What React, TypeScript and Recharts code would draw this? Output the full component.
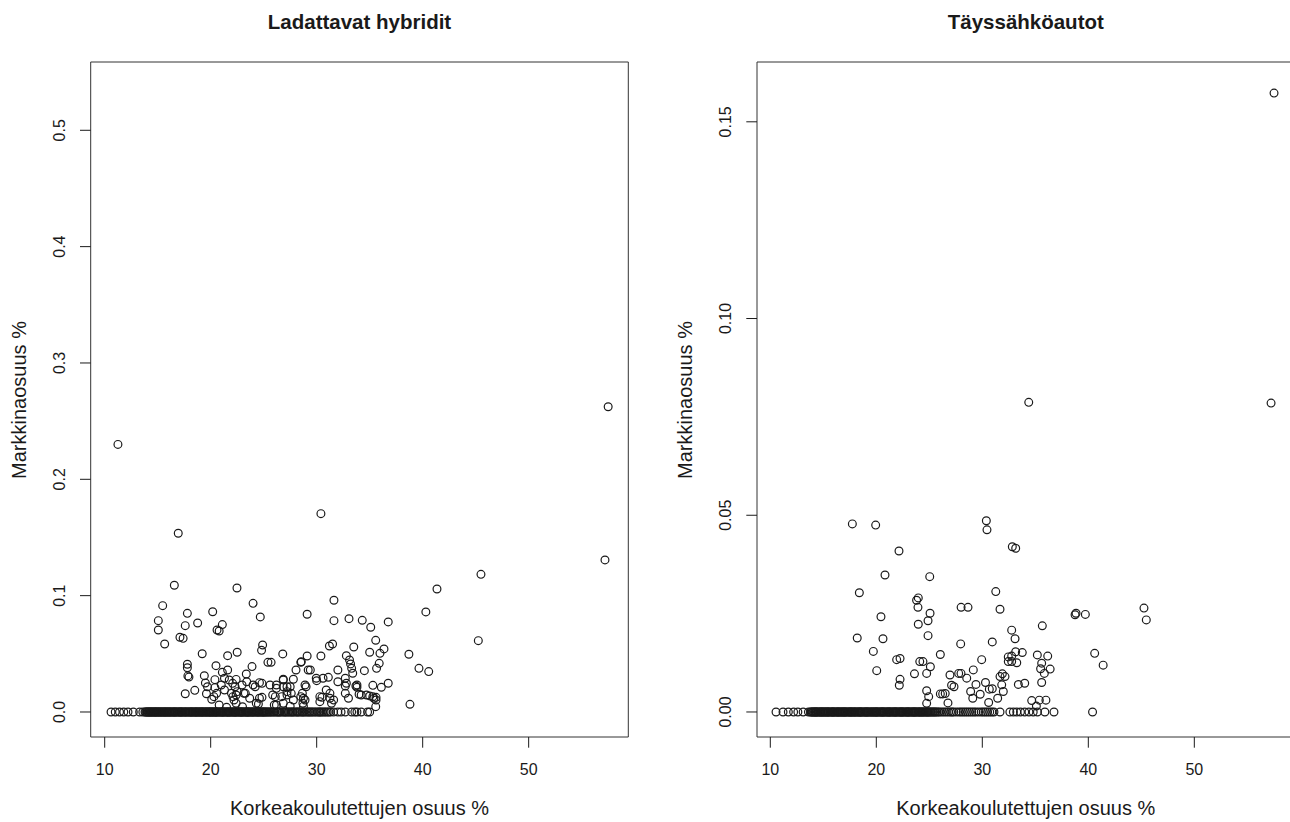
import { ReferenceArea, Scatter, ScatterChart, XAxis, YAxis } from "recharts";

// Ladattavat hybridit: kunnat joilla markkinaosuus > 0
const hybridX = [
  11.25, 30.4, 16.94, 16.57, 22.48, 15.47, 24.0, 31.63, 17.8, 20.19, 24.68, 29.1,
  15.06, 15.06, 17.6, 18.77, 21.1, 20.6, 20.8, 31.63, 33.05, 34.3, 15.66, 17.1,
  17.4, 19.2, 21.6, 22.5, 24.9, 24.8, 25.4, 25.7, 26.8, 29.1, 30.4, 31.2, 31.5,
  33.5, 17.8, 17.8, 17.85, 17.95, 17.6, 18.5, 19.4, 19.5, 19.7, 19.6, 20.5, 20.4,
  20.4, 20.3, 20.1, 21.1, 21.3, 21.6, 21.75, 22.07, 22.4, 22.3, 22.5, 22.1, 22.4,
  23.36, 23.9, 23.4, 24.0, 23.14, 24.2, 24.6, 24.84, 24.6, 24.84, 24.3, 25.6,
  26.2, 26.85, 27.2, 26.7, 26.1, 20.56, 21.0, 21.3, 21.96, 22.2, 22.4, 22.96,
  23.27, 23.68, 26.2, 57.5, 57.2, 45.5, 41.35, 40.3, 45.25, 38.7, 39.65, 40.57,
  38.8, 36.75, 35.1, 35.57, 35.0, 35.97, 36.35, 35.9, 35.65, 34.5, 33.4, 36.75,
  36.1, 35.3, 33.7, 34.0, 35.0, 35.4, 35.6, 35.57, 32.8, 33.1, 33.2, 33.3, 28.55,
  28.05, 29.4, 32.0, 30.6, 31.1, 30.0, 27.8, 26.85, 27.2, 29.0, 32.0, 32.7, 32.7,
  33.8, 33.8, 27.2, 27.6, 28.5, 28.9, 30.5, 31.25, 31.6, 33.0, 34.2, 34.7, 35.3,
  35.6, 26.85, 28.7, 30.3, 31.4, 27.8, 28.75, 30.3, 31.25, 30.9, 29.96, 32.8,
  32.7, 26.85, 27.5, 28.5, 29.2, 28.9, 28.65, 26.2, 25.85, 24.5, 26.0, 27.5,
  28.75, 20.8, 21.5, 23.0,
];
const hybridY = [
  0.230, 0.1705, 0.1536, 0.1089, 0.1066, 0.0914, 0.0934, 0.096, 0.0848, 0.0862,
  0.0817, 0.084, 0.0785, 0.0705, 0.0742, 0.0765, 0.0751, 0.0705, 0.0696, 0.0785,
  0.0802, 0.0788, 0.0584, 0.0642, 0.0633, 0.0501, 0.0484, 0.0513, 0.0576, 0.053,
  0.0427, 0.0427, 0.0499, 0.0481, 0.0481, 0.0567, 0.0584, 0.0559, 0.041, 0.038,
  0.031, 0.030, 0.0157, 0.0186, 0.0312, 0.0249, 0.0217, 0.0157, 0.0398, 0.0278,
  0.0209, 0.0132, 0.0109, 0.0341, 0.029, 0.0361, 0.0275, 0.0246, 0.028, 0.0217,
  0.0175, 0.0132, 0.0146, 0.0327, 0.039, 0.026, 0.0232, 0.016, 0.0217, 0.0252,
  0.0246, 0.0118, 0.0126, 0.0075, 0.0232, 0.0203, 0.0217, 0.0175, 0.0132, 0.0132,
  0.016, 0.0232, 0.0189, 0.016, 0.0103, 0.0075, 0.0232, 0.016, 0.0118, 0.0232,
  0.2624, 0.1307, 0.1183, 0.1057, 0.086, 0.0613, 0.0496, 0.0375, 0.0347, 0.0066,
  0.0774, 0.0728, 0.0616, 0.0513, 0.0504, 0.0542, 0.0418, 0.0375, 0.0355, 0.0333,
  0.0247, 0.0212, 0.0229, 0.0223, 0.0152, 0.0138, 0.0118, 0.0126, 0.0046, 0.0484,
  0.0447, 0.0413, 0.0375, 0.0432, 0.0361, 0.0361, 0.0361, 0.029, 0.0298, 0.0269,
  0.0281, 0.0281, 0.0217, 0.0217, 0.026, 0.029, 0.0223, 0.0232, 0.0212, 0.0146,
  0.016, 0.0132, 0.0103, 0.0126, 0.016, 0.0103, 0.0118, 0.0146, 0.0146, 0.0132,
  0.0103, 0.0075, 0.0075, 0.0089, 0.0075, 0.0103, 0.0118, 0.0132, 0.0118, 0.0189,
  0.029, 0.0247, 0.016, 0.0275, 0.0217, 0.0427, 0.0361, 0.0232, 0.016, 0.006,
  0.0146, 0.0069, 0.006, 0.005, 0.005, 0.006, 0.004, 0.0045,
];
// kunnat joissa ei yhtään ladattavaa hybridiä
const hybridZeroX = [
  10.6, 11.0, 11.4, 11.8, 12.2, 12.7, 13.3, 13.6, 13.8, 13.87, 13.95, 14.02,
  14.1, 14.16, 14.2, 14.3, 14.36, 14.4, 14.48, 14.55, 14.63, 14.7, 14.76, 14.8,
  14.9, 14.97, 15.0, 15.1, 15.17, 15.22, 15.3, 15.37, 15.45, 15.5, 15.6, 15.66,
  15.7, 15.8, 15.85, 15.93, 16.0, 16.08, 16.14, 16.2, 16.3, 16.36, 16.45, 16.52,
  16.6, 16.66, 16.7, 16.8, 16.9, 16.96, 17.05, 17.12, 17.2, 17.26, 17.3, 17.4,
  17.5, 17.57, 17.65, 17.7, 17.78, 17.9, 17.96, 18.05, 18.1, 18.2, 18.25, 18.3,
  18.4, 18.5, 18.55, 18.6, 18.68, 18.75, 18.83, 18.9, 18.97, 19.05, 19.12, 19.2,
  19.25, 19.3, 19.4, 19.5, 19.56, 19.6, 19.7, 19.8, 19.86, 19.9, 20.0, 20.05,
  20.13, 20.2, 20.27, 20.35, 20.42, 20.5, 20.55, 20.6, 20.7, 20.8, 20.87, 20.95,
  21.03, 21.1, 21.16, 21.2, 21.3, 21.4, 21.47, 21.55, 21.62, 21.7, 21.75, 21.8,
  21.9, 22.0, 22.07, 22.15, 22.22, 22.3, 22.36, 22.4, 22.5, 22.6, 22.67, 22.75,
  22.82, 22.9, 22.95, 23.0, 23.1, 23.2, 23.28, 23.35, 23.42, 23.5, 23.55, 23.6,
  23.7, 23.8, 23.88, 23.95, 24.03, 24.1, 24.2, 24.3, 24.37, 24.45, 24.53, 24.6,
  24.7, 24.8, 24.87, 24.95, 25.03, 25.1, 25.2, 25.3, 25.38, 25.5, 25.6, 25.7,
  25.82, 25.95, 26.05, 26.2, 26.3, 26.4, 26.5, 26.6, 26.75, 26.9, 27.0, 27.1,
  27.22, 27.35, 27.47, 27.6, 27.7, 27.8, 27.95, 28.1, 28.2, 28.3, 28.45, 28.6,
  28.7, 28.8, 28.95, 29.1, 29.22, 29.35, 29.47, 29.6, 29.75, 29.9, 30.05, 30.2,
  30.3, 30.4, 30.55, 30.7, 30.85, 31.0, 31.15, 31.3, 31.6, 32.0, 32.3, 32.7,
  33.3, 33.6, 33.8, 34.2, 34.8, 35.0,
];

// Täyssähköautot: kunnat joilla markkinaosuus > 0
const electricX = [
  57.52, 57.24, 34.38, 17.74, 19.94, 30.38, 30.44, 22.14, 32.83, 33.15, 20.82,
  25.04, 18.4, 23.96, 23.8, 23.93, 31.27, 28.0, 28.65, 31.67, 20.44, 25.07, 24.88,
  23.96, 24.88, 18.2, 20.63, 27.96, 30.94, 19.72, 21.92, 22.24, 24.1, 24.4, 25.1,
  26.04, 29.94, 20.04, 22.24, 22.17, 23.6, 24.75, 24.75, 24.94, 24.75, 26.04,
  26.26, 26.5, 26.76, 26.95, 27.1, 27.33, 27.77, 27.99, 28.53, 29.15, 29.4, 28.9,
  29.1, 29.8, 30.3, 30.66, 30.6, 30.94, 31.45, 31.67, 31.89, 32.14, 31.83, 31.98,
  32.45, 32.45, 38.84, 38.75, 39.72, 45.25, 45.47, 35.66, 32.77, 33.09, 33.15,
  33.77, 32.77, 32.77, 33.25, 35.19, 36.17, 35.6, 35.5, 36.4, 35.85, 40.6, 41.4,
  33.4, 34.0, 35.6, 34.66, 35.38, 36.0, 35.1,
];
const electricY = [
  0.1573, 0.0785, 0.0787, 0.0478, 0.0475, 0.0486, 0.0463, 0.0409, 0.042, 0.0416,
  0.0348, 0.0344, 0.0303, 0.029, 0.0284, 0.0266, 0.0306, 0.0266, 0.0266, 0.0261,
  0.0242, 0.0251, 0.0232, 0.0223, 0.0194, 0.0188, 0.0186, 0.0173, 0.0178, 0.0154,
  0.0133, 0.0136, 0.0128, 0.0128, 0.0115, 0.0146, 0.0133, 0.0105, 0.0083, 0.0068,
  0.0097, 0.0098, 0.0054, 0.0039, 0.0022, 0.0046, 0.0046, 0.0047, 0.0023, 0.0094,
  0.0068, 0.0064, 0.0098, 0.0098, 0.0086, 0.0107, 0.007, 0.0052, 0.0035, 0.0045,
  0.0075, 0.0058, 0.0024, 0.0059, 0.0035, 0.009, 0.0097, 0.009, 0.0069, 0.0052,
  0.014, 0.0128, 0.0251, 0.0247, 0.0248, 0.0264, 0.0234, 0.0219, 0.0208, 0.0186,
  0.0153, 0.0151, 0.0142, 0.0128, 0.0125, 0.0145, 0.0142, 0.0124, 0.011, 0.0109,
  0.0098, 0.0149, 0.0119, 0.007, 0.0073, 0.0075, 0.0029, 0.003, 0.003, 0.0015,
];
const electricZeroX = [
  10.54, 11.2, 11.7, 12.2, 12.6, 13.1, 13.6, 13.8, 13.86, 13.95, 14.03, 14.1,
  14.17, 14.25, 14.3, 14.35, 14.44, 14.5, 14.6, 14.7, 14.75, 14.8, 14.9, 14.95,
  15.03, 15.1, 15.18, 15.25, 15.32, 15.4, 15.46, 15.5, 15.6, 15.7, 15.77, 15.85,
  15.9, 15.95, 16.04, 16.1, 16.2, 16.3, 16.35, 16.4, 16.48, 16.55, 16.63, 16.7,
  16.78, 16.85, 16.92, 17.0, 17.05, 17.1, 17.2, 17.3, 17.37, 17.45, 17.52, 17.6,
  17.65, 17.7, 17.8, 17.9, 17.95, 18.0, 18.1, 18.2, 18.27, 18.35, 18.42, 18.5,
  18.55, 18.6, 18.7, 18.8, 18.88, 18.95, 19.02, 19.1, 19.15, 19.2, 19.3, 19.4,
  19.47, 19.55, 19.62, 19.7, 19.78, 19.85, 19.92, 20.0, 20.05, 20.1, 20.2, 20.3,
  20.38, 20.45, 20.52, 20.6, 20.65, 20.7, 20.8, 20.9, 20.97, 21.05, 21.12, 21.2,
  21.25, 21.3, 21.4, 21.5, 21.57, 21.65, 21.72, 21.8, 21.85, 21.9, 22.0, 22.1,
  22.18, 22.25, 22.32, 22.4, 22.45, 22.5, 22.6, 22.7, 22.78, 22.85, 22.92, 23.0,
  23.05, 23.1, 23.2, 23.3, 23.38, 23.45, 23.52, 23.6, 23.65, 23.7, 23.8, 23.9,
  23.97, 24.05, 24.12, 24.2, 24.27, 24.35, 24.42, 24.5, 24.6, 24.7, 24.77, 24.85,
  24.92, 25.0, 25.1, 25.2, 25.3, 25.4, 25.5, 25.6, 25.72, 25.85, 26.0, 26.2,
  26.4, 26.6, 26.8, 27.0, 27.15, 27.3, 27.55, 27.8, 28.0, 28.2, 28.4, 28.6, 28.8,
  29.0, 29.2, 29.4, 29.65, 29.9, 30.1, 30.3, 30.5, 30.7, 30.9, 31.1, 31.67, 32.6,
  32.93, 33.25, 33.6, 34.0, 34.4, 34.8, 35.2, 35.9, 36.76, 40.4,
];

const xTicks = [10, 20, 30, 40, 50];
const hybridYTicks = [0, 0.1, 0.2, 0.3, 0.4, 0.5];
const electricYTicks = [0, 0.05, 0.1, 0.15];

const toPoints = (xs: number[], ys: number[], zeros: number[]) => [
  ...xs.map((x, i) => ({ x, y: ys[i] })),
  ...zeros.map((x) => ({ x, y: 0 })),
];

const FONT = '"Liberation Sans", Arial, Helvetica, sans-serif';
const INK = "#1a1a1a";
const X_AXIS_H = 30;
const Y_AXIS_W = 40;

const Ring = (props: any) => (
  <circle cx={props.cx} cy={props.cy} r={3.9} fill="none" stroke={INK} strokeWidth={1.2} />
);

// R:n tyylinen akseli: tikki 10.7px ulospäin, numero keskitettynä sen alle
const XTick = ({ x, payload, axisTop }: any) => (
  <g>
    <line x1={x} x2={x} y1={axisTop} y2={axisTop + 10.7} stroke={INK} />
    <text x={x} y={axisTop + 32} textAnchor="middle" dominantBaseline="central" fontSize={16} fontFamily={FONT} fill={INK}>
      {payload.value}
    </text>
  </g>
);

const YTick = ({ y, payload, axisLeft, digits }: any) => {
  const cx = axisLeft - 31;
  return (
    <g>
      <line x1={axisLeft - 10.7} x2={axisLeft} y1={y} y2={y} stroke={INK} />
      <text
        x={cx}
        y={y}
        transform={`rotate(-90, ${cx}, ${y})`}
        textAnchor="middle"
        dominantBaseline="central"
        fontSize={16}
        fontFamily={FONT}
        fill={INK}
      >
        {Number(payload.value).toFixed(digits)}
      </text>
    </g>
  );
};

type PanelProps = {
  left: number;
  width: number;
  plotLeft: number;
  plotRight: number;
  title: string;
  data: { x: number; y: number }[];
  xDomain: [number, number];
  yDomain: [number, number];
  yTicks: number[];
  digits: number;
};

const PLOT_TOP = 62;
const PLOT_BOTTOM = 737;
const H = 822;

function Panel(p: PanelProps) {
  const center = (p.plotLeft + p.plotRight) / 2;
  const localLeft = p.plotLeft - p.left;
  const textStyle = { position: "absolute" as const, fontFamily: FONT, color: INK, whiteSpace: "nowrap" as const };
  return (
    <>
      <div style={{ ...textStyle, left: center - 200, width: 400, top: 10, lineHeight: "24px", textAlign: "center", fontSize: 20.5, fontWeight: "bold" }}>
        {p.title}
      </div>
      <div style={{ ...textStyle, left: center - 200, width: 400, top: 796, lineHeight: "24px", textAlign: "center", fontSize: 20 }}>
        Korkeakoulutettujen osuus %
      </div>
      <div
        style={{
          ...textStyle,
          left: p.plotLeft - 72 - 100,
          width: 200,
          top: (PLOT_TOP + PLOT_BOTTOM) / 2 - 12,
          lineHeight: "24px",
          textAlign: "center",
          fontSize: 20,
          transform: "rotate(-90deg)",
        }}
      >
        Markkinaosuus %
      </div>
      <div style={{ position: "absolute", left: p.left, top: 0 }}>
        <ScatterChart
          width={p.width}
          height={H}
          margin={{
            top: PLOT_TOP,
            bottom: H - PLOT_BOTTOM - X_AXIS_H,
            left: localLeft - Y_AXIS_W,
            right: p.left + p.width - p.plotRight,
          }}
        >
          <XAxis
            type="number"
            dataKey="x"
            domain={p.xDomain}
            ticks={xTicks}
            allowDataOverflow
            height={X_AXIS_H}
            axisLine={false}
            tickLine={false}
            interval={0}
            tick={<XTick axisTop={PLOT_BOTTOM} />}
          />
          <YAxis
            type="number"
            dataKey="y"
            domain={p.yDomain}
            ticks={p.yTicks}
            allowDataOverflow
            width={Y_AXIS_W}
            axisLine={false}
            tickLine={false}
            interval={0}
            tick={<YTick axisLeft={localLeft} digits={p.digits} />}
          />
          <ReferenceArea
            x1={p.xDomain[0]}
            x2={p.xDomain[1]}
            y1={p.yDomain[0]}
            y2={p.yDomain[1]}
            fill="none"
            fillOpacity={0}
            stroke="#333"
            strokeWidth={1}
          />
          <Scatter data={p.data} shape={Ring} isAnimationActive={false} />
        </ScatterChart>
      </div>
    </>
  );
}

export default function App() {
  return (
    <div style={{ position: "absolute", left: 0, top: 0, width: 1290, height: 822, overflow: "hidden", background: "#fff" }}>
      <Panel
        left={0}
        width={645}
        plotLeft={90.7}
        plotRight={628.3}
        title="Ladattavat hybridit"
        data={toPoints(hybridX, hybridY, hybridZeroX)}
        xDomain={[8.68, 59.4]}
        yDomain={[-0.0215, 0.5587]}
        yTicks={hybridYTicks}
        digits={1}
      />
      <Panel
        left={645}
        width={660}
        plotLeft={757}
        plotRight={1294.6}
        title="Täyssähköautot"
        data={toPoints(electricX, electricY, electricZeroX)}
        xDomain={[8.745, 59.46]}
        yDomain={[-0.00636, 0.1652]}
        yTicks={electricYTicks}
        digits={2}
      />
    </div>
  );
}
